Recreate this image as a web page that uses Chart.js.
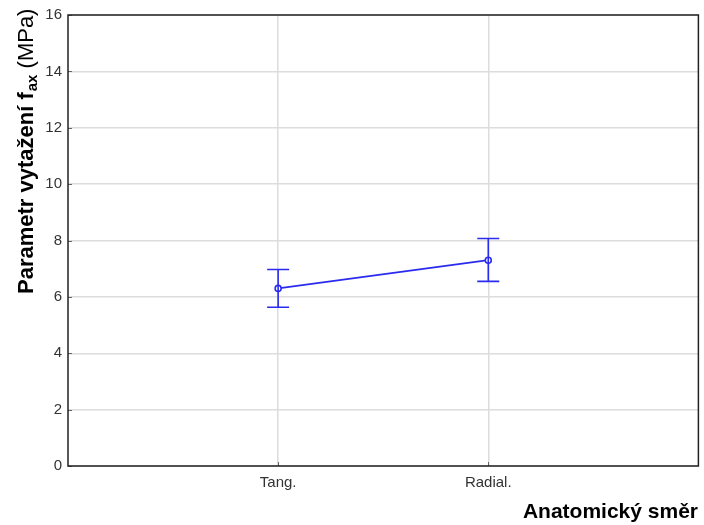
<!DOCTYPE html>
<html>
<head>
<meta charset="utf-8">
<script src="https://cdn.jsdelivr.net/npm/chart.js@4.4.1/dist/chart.umd.min.js"></script>
<style>
html,body{margin:0;padding:0;background:#fff;}
#wrap{width:704px;height:525px;position:relative;}
</style>
</head>
<body>
<div id="wrap"><canvas id="c" width="704" height="525"></canvas></div>
<script>
const categories = ['Tang.', 'Radial.'];
const means = [6.30, 7.30];
const lower = [5.63, 6.55];
const upper = [6.97, 8.07];
const yTicks = [0, 2, 4, 6, 8, 10, 12, 14, 16];
const xTitle = 'Anatomický směr';
const yTitleMain = 'Parametr vytažení f';
const yTitleSub = 'ax';
const yTitleUnit = ' (MPa)';

const BLUE = '#2b2bf0';
const FONT = '"Liberation Sans", Arial, sans-serif';

const points = categories.map((c, i) => ({x: i + 1, y: means[i]}));

const errorBars = {
  id: 'errorBars',
  afterDatasetsDraw(chart) {
    const ctx = chart.ctx, xs = chart.scales.x, ys = chart.scales.y;
    ctx.save();
    ctx.strokeStyle = BLUE;
    ctx.lineWidth = 1.6;
    categories.forEach((c, i) => {
      const px = xs.getPixelForValue(i + 1);
      const pl = ys.getPixelForValue(lower[i]);
      const pu = ys.getPixelForValue(upper[i]);
      ctx.beginPath();
      ctx.moveTo(px, pl); ctx.lineTo(px, pu);
      ctx.moveTo(px - 11, pl); ctx.lineTo(px + 11, pl);
      ctx.moveTo(px - 11, pu); ctx.lineTo(px + 11, pu);
      ctx.stroke();
    });
    ctx.restore();
  }
};

const frameAndTitles = {
  id: 'frameAndTitles',
  afterDraw(chart) {
    const ctx = chart.ctx, a = chart.chartArea, xs = chart.scales.x, ys = chart.scales.y;
    ctx.save();
    // inner tick marks
    ctx.strokeStyle = '#666';
    ctx.lineWidth = 1;
    ctx.beginPath();
    categories.forEach((c, i) => {
      const px = Math.round(xs.getPixelForValue(i + 1)) + 0.5;
      ctx.moveTo(px, a.bottom); ctx.lineTo(px, a.bottom - 4);
    });
    yTicks.forEach(v => {
      const py = Math.round(ys.getPixelForValue(v)) + 0.5;
      ctx.moveTo(a.left, py); ctx.lineTo(a.left + 4, py);
    });
    ctx.stroke();
    ctx.strokeStyle = '#222';
    ctx.lineWidth = 1.5;
    ctx.strokeRect(a.left, a.top, a.right - a.left, a.bottom - a.top);
    // x title
    ctx.fillStyle = '#000';
    ctx.font = 'bold 21px ' + FONT;
    ctx.textAlign = 'right';
    ctx.textBaseline = 'alphabetic';
    ctx.fillText(xTitle, 698, 518);
    // y title
    ctx.translate(33, 294);
    ctx.rotate(-Math.PI / 2);
    ctx.textAlign = 'left';
    ctx.textBaseline = 'alphabetic';
    ctx.font = 'bold 22px ' + FONT;
    ctx.fillText(yTitleMain, 0, 0);
    let w = ctx.measureText(yTitleMain).width;
    ctx.font = 'bold 15px ' + FONT;
    ctx.fillText(yTitleSub, w + 1, 4);
    w += 1 + ctx.measureText(yTitleSub).width;
    ctx.font = '22px ' + FONT;
    ctx.fillText(yTitleUnit, w, 0);
    ctx.restore();
  }
};

new Chart(document.getElementById('c'), {
  type: 'line',
  data: {
    datasets: [{
      data: points,
      borderColor: BLUE,
      borderWidth: 1.8,
      pointStyle: 'circle',
      pointRadius: 3,
      pointBorderWidth: 1.6,
      pointBackgroundColor: '#fff',
      pointBorderColor: BLUE,
      tension: 0,
      fill: false
    }]
  },
  options: {
    responsive: false,
    animation: false,
    devicePixelRatio: 1,
    layout: {padding: {left: 0, right: 3, top: 14, bottom: 0}},
    plugins: {legend: {display: false}, tooltip: {enabled: false}},
    scales: {
      x: {
        type: 'linear',
        min: 0, max: categories.length + 1,
        afterBuildTicks(s) { s.ticks = categories.map((c, i) => ({value: i + 1})); },
        afterFit(s) { s.height = 59; s.paddingLeft = 0; s.paddingRight = 0; },
        ticks: {
          callback: (v) => categories[v - 1] || '',
          color: '#333',
          font: {family: FONT, size: 15},
          padding: 8,
          maxRotation: 0
        },
        grid: {color: '#dcdcdc', lineWidth: 1.5, drawTicks: false},
        border: {display: false}
      },
      y: {
        type: 'linear',
        min: yTicks[0], max: yTicks[yTicks.length - 1],
        afterBuildTicks(s) { s.ticks = yTicks.map(v => ({value: v})); },
        afterFit(s) { s.width = 68; },
        ticks: {
          color: '#333',
          font: {family: FONT, size: 15},
          padding: 6
        },
        grid: {color: '#dcdcdc', lineWidth: 1.5, drawTicks: false},
        border: {display: false}
      }
    }
  },
  plugins: [errorBars, frameAndTitles]
});
</script>
</body>
</html>
